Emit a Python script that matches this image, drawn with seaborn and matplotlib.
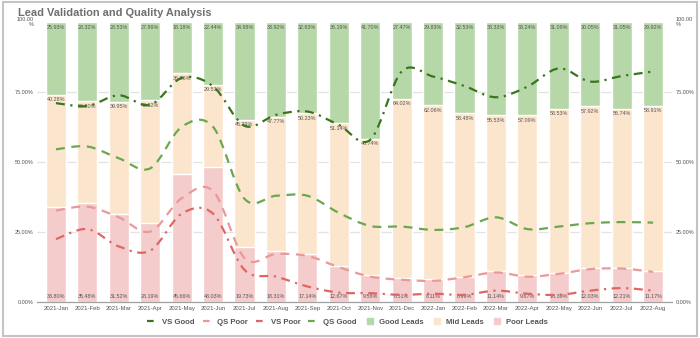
import numpy as np
import pandas as pd
import matplotlib
matplotlib.use("Agg")
import matplotlib.pyplot as plt
import seaborn as sns
from matplotlib.path import Path
from matplotlib.patches import PathPatch, Rectangle
from matplotlib.lines import Line2D

months = ["2021-Jan", "2021-Feb", "2021-Mar", "2021-Apr", "2021-May", "2021-Jun",
          "2021-Jul", "2021-Aug", "2021-Sep", "2021-Oct", "2021-Nov", "2021-Dec",
          "2022-Jan", "2022-Feb", "2022-Mar", "2022-Apr", "2022-May", "2022-Jun",
          "2022-Jul", "2022-Aug"]
good_leads = [25.93, 28.32, 28.53, 27.89, 18.18, 22.44, 34.98, 33.92, 32.63, 36.19,
              41.70, 27.47, 29.83, 32.53, 33.33, 33.24, 31.09, 30.05, 31.05, 29.92]
mid_leads = [40.28, 36.20, 39.95, 43.92, 36.06, 29.53, 45.29, 47.77, 50.23, 51.14,
             48.74, 64.02, 62.06, 58.48, 55.53, 57.09, 58.53, 57.92, 56.74, 58.91]
poor_leads = [33.80, 35.48, 31.52, 28.19, 45.66, 48.03, 19.73, 18.31, 17.14, 12.67,
              9.56, 8.51, 8.11, 8.99, 11.14, 9.67, 10.39, 12.03, 12.21, 11.17]
vs_good = [71.0, 70.0, 73.8, 70.4, 80.0, 77.0, 62.9, 66.8, 68.0, 63.2,
           57.9, 82.3, 80.5, 77.1, 73.1, 76.9, 83.4, 78.7, 80.7, 82.3]
qs_good = [54.5, 55.5, 51.3, 47.7, 62.5, 62.5, 36.8, 37.9, 37.9, 31.8,
           27.1, 26.9, 25.7, 26.7, 30.2, 26.0, 26.9, 28.1, 28.5, 28.3]
qs_poor = [32.6, 34.0, 30.2, 25.1, 37.0, 39.6, 15.6, 17.1, 16.4, 12.4,
           9.0, 7.9, 7.5, 8.8, 10.5, 9.0, 10.0, 11.7, 11.9, 10.7]
vs_poor = [22.4, 26.0, 19.8, 18.3, 31.5, 31.5, 11.4, 9.0, 5.5, 3.3,
           3.1, 2.5, 2.9, 2.5, 4.0, 2.9, 2.5, 4.0, 4.9, 4.0]
y_ticks = [0, 25, 50, 75, 100]
y_tick_labels = ["0.00%", "25.00%", "50.00%", "75.00%", "100.00\n%"]

c_good = "#b6d7a8"
c_mid = "#fce5cd"
c_poor = "#f4cccc"
c_vsgood = "#38761d"
c_qsgood = "#6aa84f"
c_qspoor = "#ea9999"
c_vspoor = "#e06666"

df = pd.DataFrame({"month": months, "good": good_leads, "mid": mid_leads, "poor": poor_leads})
df["top"] = df["good"] + df["mid"] + df["poor"]
df["midtop"] = df["mid"] + df["poor"]

sns.set_theme(style="white")
plt.rcParams["font.family"] = ["Liberation Sans", "DejaVu Sans"]

fig = plt.figure(figsize=(7, 3.38), dpi=100)
ax = fig.add_axes([0.053, 0.107, 0.907, 0.828])

w = 0.64
sns.barplot(data=df, x="month", y="top", color=c_good, width=w, ax=ax, saturation=1, order=months)
sns.barplot(data=df, x="month", y="midtop", color=c_mid, width=w, ax=ax, saturation=1, order=months)
sns.barplot(data=df, x="month", y="poor", color=c_poor, width=w, ax=ax, saturation=1, order=months)

lab_fs = 3.9
for i in range(len(months)):
    ax.text(i, 99.0, f"{good_leads[i]:.2f}%", ha="center", va="top", fontsize=lab_fs, color="#555555")
    ax.text(i, df["midtop"][i] - 0.9, f"{mid_leads[i]:.2f}%", ha="center", va="top", fontsize=lab_fs, color="#555555")
    ax.text(i, 1.8, f"{poor_leads[i]:.2f}%", ha="center", va="center", fontsize=lab_fs, color="#555555")


def smooth_path(ys):
    xs = np.arange(len(ys), dtype=float)
    pts = np.column_stack([xs, np.asarray(ys, dtype=float)])
    verts = [pts[0]]
    codes = [Path.MOVETO]
    n = len(pts)
    for i in range(n - 1):
        p0 = pts[i - 1] if i > 0 else pts[i]
        p1 = pts[i]
        p2 = pts[i + 1]
        p3 = pts[i + 2] if i + 2 < n else pts[i + 1]
        c1 = p1 + (p2 - p0) / 6.0
        c2 = p2 - (p3 - p1) / 6.0
        verts += [c1, c2, p2]
        codes += [Path.CURVE4] * 3
    return Path(verts, codes)


series = [
    (vs_good, c_vsgood, (0, (4, 2.5, 1, 2.5)), "VS Good"),
    (qs_poor, c_qspoor, (0, (4, 3)), "QS Poor"),
    (vs_poor, c_vspoor, (0, (4, 2.5, 1, 2.5)), "VS Poor"),
    (qs_good, c_qsgood, (0, (4, 3)), "QS Good"),
]
handles = []
for ys, col, ls, lab in series:
    patch = PathPatch(smooth_path(ys), fill=False, edgecolor=col, linewidth=1.6,
                      linestyle=ls, transform=ax.transData, zorder=5, capstyle="butt")
    ax.add_patch(patch)
    handles.append(Line2D([], [], color=col, linewidth=1.6, linestyle=(0, (3, 2, 1, 2)) if "VS" in lab else (0, (3, 2.5))))

for col in [c_good, c_mid, c_poor]:
    handles.append(Line2D([], [], color=col, marker="s", markersize=5, linestyle="none"))
labels = ["VS Good", "QS Poor", "VS Poor", "QS Good", "Good Leads", "Mid Leads", "Poor Leads"]

ax.set_xlim(-0.6, len(months) - 0.4)
ax.set_ylim(0, 100)
ax.set_yticks(y_ticks)
ax.set_yticklabels(y_tick_labels)
ax.tick_params(axis="y", labelleft=True, labelright=True, left=False, right=False, length=0,
               labelsize=4.0, labelcolor="#555555", pad=2.5)
ax.tick_params(axis="x", labelsize=4.3, labelcolor="#555555", bottom=False, length=0, pad=3)
ax.set_xlabel("")
ax.set_ylabel("")
for yv in [25, 50, 75]:
    ax.axhline(yv, color="#e3e3e3", linewidth=0.9, zorder=0)
ax.set_axisbelow(True)
for s in ["top", "left", "right"]:
    ax.spines[s].set_visible(False)
ax.spines["bottom"].set_color("#a0a0a0")
ax.spines["bottom"].set_linewidth(0.9)

for lbl in ax.get_yticklabels():
    if "\n" in lbl.get_text():
        lbl.set_linespacing(0.9)

leg = fig.legend(handles, labels, loc="center", bbox_to_anchor=(0.497, 0.047), ncol=7,
                 frameon=False, fontsize=5.6, handlelength=1.4, handleheight=0.7,
                 columnspacing=1.0, handletextpad=0.5)
for t in leg.get_texts():
    t.set_color("#555555")
    t.set_fontweight("bold")

fig.text(0.026, 0.962, "Lead Validation and Quality Analysis", fontsize=7.9, fontweight="bold",
         color="#6f6f6f", ha="left", va="center")

fig.add_artist(Rectangle((0.004, 0.006), 0.992, 0.988, transform=fig.transFigure,
                         fill=False, edgecolor="#c4c4c4", linewidth=1.5))

fig.savefig("out.png", dpi=100)
